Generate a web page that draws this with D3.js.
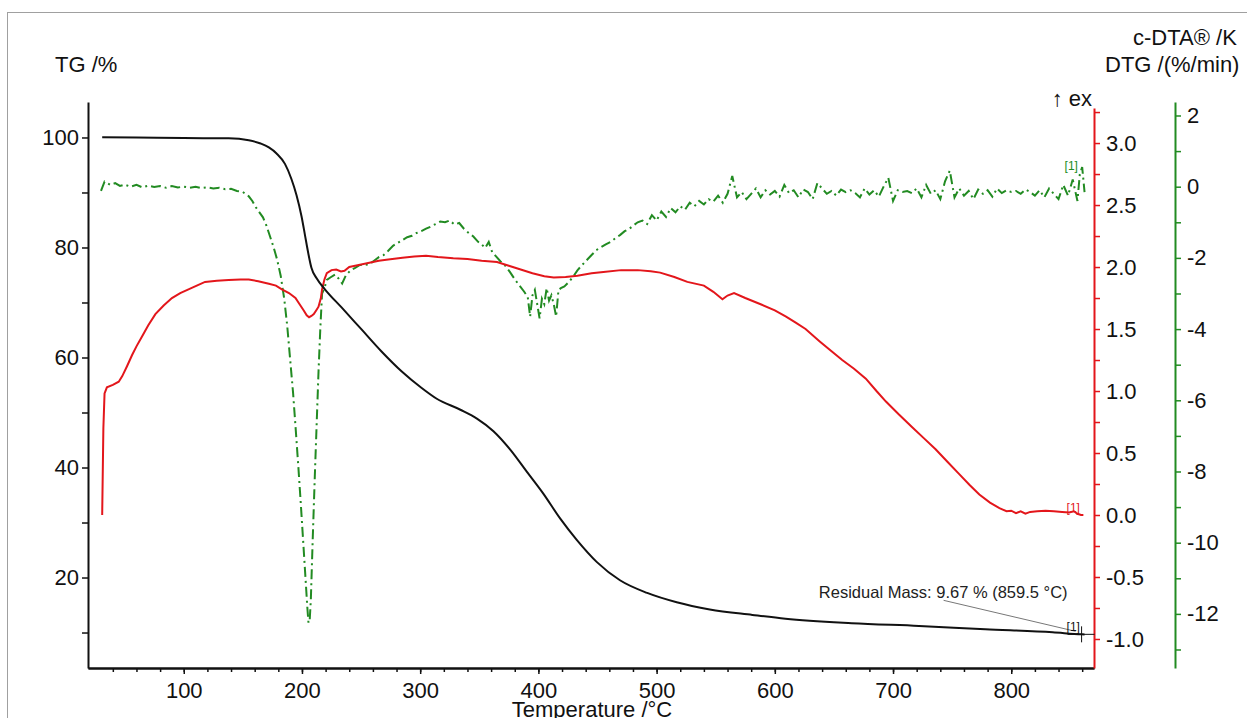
<!DOCTYPE html>
<html>
<head>
<meta charset="utf-8">
<script src="https://cdnjs.cloudflare.com/ajax/libs/d3/7.8.5/d3.min.js"></script>
<style>
  body { margin: 0; background: #fff; }
  svg { font-family: "Liberation Sans", Arial, "DejaVu Sans", sans-serif; }
</style>
</head>
<body>
<svg id="chart" width="1247" height="718"></svg>
<script>
// TG (mass %) vs temperature
var tgTemp = [31, 60, 100, 138, 155, 165, 172, 178.5, 185.6, 191, 195.4, 199.7, 202.5, 205.3, 208, 212.4, 219.4, 233.5, 250.4, 267.3, 284.2, 301, 314, 334, 348, 362, 376, 390, 404, 418.5, 432.6, 449.5, 469, 492, 517, 545, 581, 609, 665, 722, 778, 835, 859.5, 862];
var tgMass = [100.05, 100, 99.9, 99.85, 99.5, 98.9, 98.2, 97.1, 95.2, 92.5, 89.5, 85.6, 82.3, 79, 76.3, 74.4, 72.4, 69.1, 65.1, 61.1, 57.5, 54.5, 52.5, 50.5, 48.9, 46.6, 43.3, 39.3, 35.3, 30.7, 26.8, 22.8, 19.5, 17.2, 15.5, 14.2, 13.2, 12.5, 11.7, 11.2, 10.6, 10.05, 9.67, 9.65];

// c-DTA (K)
var dtaTemp = [31, 31.5, 32, 33, 35, 40, 45, 48, 52, 56.3, 60, 64.7, 70, 76, 83, 90, 97, 104, 111, 118, 128, 138, 148, 155, 163, 172, 178, 183, 189, 194.5, 198, 201.5, 204, 206, 208, 210, 212, 214, 216, 217, 219, 221, 225, 229, 233, 236, 240, 245, 255, 265, 273, 285, 295, 305, 315, 328, 340, 352, 365, 375, 385, 395, 405, 413, 423, 433, 445, 455, 470, 484, 495, 503, 515, 526, 540, 548, 555.7, 560, 565.5, 575, 588, 600, 609.5, 618, 626, 638, 648, 657, 667, 677, 686, 694, 705, 716, 726, 736, 746, 756, 765, 773, 782, 790, 796, 800, 804, 808, 812, 816, 822, 829, 836, 843, 849, 853, 856, 859, 861];
var dtaVal = [0.0, 0.35, 0.7, 0.98, 1.03, 1.05, 1.075, 1.12, 1.2, 1.29, 1.36, 1.44, 1.53, 1.62, 1.69, 1.75, 1.79, 1.82, 1.85, 1.88, 1.89, 1.895, 1.9, 1.9, 1.885, 1.865, 1.85, 1.82, 1.79, 1.75, 1.7, 1.65, 1.61, 1.595, 1.605, 1.62, 1.65, 1.68, 1.75, 1.82, 1.9, 1.95, 1.975, 1.98, 1.965, 1.97, 2.0, 2.01, 2.03, 2.05, 2.06, 2.075, 2.085, 2.09, 2.08, 2.07, 2.065, 2.05, 2.04, 2.01, 1.98, 1.95, 1.925, 1.915, 1.92, 1.93, 1.95, 1.96, 1.975, 1.975, 1.965, 1.955, 1.92, 1.88, 1.85, 1.8, 1.74, 1.77, 1.79, 1.75, 1.7, 1.65, 1.6, 1.55, 1.5, 1.4, 1.32, 1.25, 1.18, 1.1, 1.0, 0.915, 0.81, 0.71, 0.62, 0.53, 0.43, 0.33, 0.24, 0.165, 0.1, 0.055, 0.03, 0.035, 0.015, 0.03, 0.01, 0.025, 0.03, 0.035, 0.03, 0.025, 0.02, 0.03, 0.01, 0.0, 0.0];

// DTG (%/min)
var dtgTemp = [30, 33, 38, 42, 46, 50, 55, 60, 65, 70, 75, 80, 85, 90, 95, 100, 105, 110, 115, 120, 125, 130, 135, 140, 145, 150, 155, 158, 161, 164, 167, 170, 173, 176, 179, 182, 185, 187.5, 190, 192.5, 195, 197, 199, 201, 203, 204.5, 205.5, 206.5, 207.5, 209, 211, 212.5, 214, 215.5, 217, 219, 221, 224, 228, 231, 234, 237, 241, 245, 249, 253, 257, 261, 265, 269, 273, 277, 281, 285, 289, 293, 297, 301, 305, 309, 313, 317, 321, 325, 329, 333, 337, 341, 345, 349, 352, 355, 358, 361, 364, 368, 372, 376, 380, 384, 388, 391, 393, 395, 397, 399, 401, 403, 405, 407, 409, 411, 413, 415, 417, 419, 422, 425, 429, 433, 437, 441, 445, 449, 453, 457, 461, 465, 469, 473, 477, 480, 484, 488, 492, 496, 500, 504, 508, 512, 516, 520, 524, 528, 532, 536, 540, 544, 548, 552, 556, 560, 564, 568, 572, 576, 580, 584, 588, 592, 596, 600, 604, 608, 612, 616, 620, 624, 628, 632, 636, 640, 644, 648, 652, 656, 660, 664, 668, 672, 676, 680, 684, 688, 692, 696, 700, 704, 708, 712, 716, 720, 724, 728, 732, 736, 740, 744, 748, 752, 756, 760, 764, 768, 772, 776, 780, 784, 788, 792, 796, 800, 804, 808, 812, 816, 820, 824, 828, 832, 836, 840, 844, 848, 852, 856, 858, 860, 862];
var dtgVal = [-0.12, 0.14, 0.05, 0.1, 0.02, 0.06, 0.0, 0.05, -0.02, 0.03, -0.01, 0.02, -0.03, 0.02, -0.02, 0.0, -0.03, 0.0, -0.04, -0.02, -0.05, -0.03, -0.07, -0.06, -0.12, -0.15, -0.27, -0.4, -0.58, -0.72, -0.86, -1.1, -1.4, -1.7, -2.05, -2.5, -3.15, -3.9, -4.85, -5.8, -6.95, -7.9, -8.9, -9.95, -11.0, -11.8, -12.25, -12.2, -11.6, -10.0, -8.0, -6.6, -5.2, -4.0, -3.0, -2.85, -2.62, -2.55, -2.47, -2.58, -2.72, -2.5, -2.35, -2.28, -2.2, -2.2, -2.18, -2.08, -1.98, -1.92, -1.8, -1.66, -1.58, -1.5, -1.42, -1.38, -1.3, -1.25, -1.18, -1.12, -1.05, -0.98, -1.0, -0.95, -1.06, -1.02, -1.18, -1.3, -1.4, -1.55, -1.62, -1.72, -1.55, -1.85, -1.95, -2.1, -2.22, -2.4, -2.6, -2.78, -2.95, -3.1, -3.65, -3.05, -2.9, -3.3, -3.7, -3.15, -3.3, -2.85, -3.2, -3.05, -3.3, -3.65, -2.9, -2.85, -2.8, -2.7, -2.55, -2.35, -2.2, -2.06, -1.92, -1.78, -1.7, -1.62, -1.55, -1.45, -1.36, -1.25, -1.18, -1.1, -1.0, -0.95, -1.05, -0.8, -0.95, -0.7, -0.85, -0.6, -0.72, -0.55, -0.65, -0.45, -0.55, -0.4, -0.5, -0.35, -0.42, -0.25, -0.45, -0.2, 0.3, -0.3, -0.15, -0.35, -0.2, -0.05, -0.3, -0.1, -0.22, -0.12, -0.28, 0.05, -0.18, -0.1, -0.3, -0.08, -0.15, -0.35, 0.1, -0.05, -0.2, -0.12, -0.25, -0.08, -0.15, -0.1, -0.18, -0.3, -0.05, -0.22, -0.1, -0.28, 0.0, 0.25, -0.4, -0.1, -0.15, -0.12, -0.18, -0.05, -0.3, 0.05, -0.2, -0.1, -0.35, 0.15, 0.45, -0.3, -0.05, -0.25, -0.12, -0.35, -0.08, -0.2, -0.1, -0.28, -0.05, -0.18, -0.1, -0.15, -0.12, -0.2, -0.08, -0.15, -0.25, -0.1, -0.3, -0.05, -0.2, -0.35, 0.05, -0.25, 0.2, -0.4, 0.35, 0.55, -0.15];

// axis labels
var tempLabels = [100, 200, 300, 400, 500, 600, 700, 800];
var tgLabels = [20, 40, 60, 80, 100];
var dtaLabels = [-1.0, -0.5, 0.0, 0.5, 1.0, 1.5, 2.0, 2.5, 3.0];
var dtgLabels = [-12, -10, -8, -6, -4, -2, 0, 2];

var red = "#e3161b", green = "#228b22";
var plotL = 88, plotR = 1094, plotT = 102, plotB = 668;

var svg = d3.select("#chart");

var x = d3.scaleLinear().domain([19, 870]).range([plotL, plotR]);
var yTG = d3.scaleLinear().domain([3.55, 106.45]).range([plotB, plotT]);
var yDTA = d3.scaleLinear().domain([-1.234, 3.331]).range([plotB, plotT]);
var yDTG = d3.scaleLinear().domain([-13.52, 2.379]).range([plotB, plotT]);

// outer frame
svg.append("rect").attr("x", 7.5).attr("y", 12.5).attr("width", 1260).attr("height", 720)
    .attr("fill", "none").attr("stroke", "#a0a0a0");

function styleAxis(g, color) {
    g.select(".domain").attr("stroke", color).attr("stroke-width", 2);
    g.selectAll(".tick line").attr("stroke", color).attr("stroke-width", 1.5);
    g.selectAll("text").attr("fill", "#111").style("font-size", "22px").style("font-family", "Liberation Sans, Arial, sans-serif");
}

// bottom axis
svg.append("g").attr("transform", "translate(0," + plotB + ")")
    .call(d3.axisBottom(x).tickValues(d3.range(40, 861, 20)).tickFormat("").tickSize(4).tickSizeOuter(0))
    .call(styleAxis, "#111");
svg.append("g").attr("transform", "translate(0," + plotB + ")")
    .call(d3.axisBottom(x).tickValues(tempLabels).tickSize(6).tickSizeOuter(0).tickPadding(8))
    .call(styleAxis, "#111");

// left TG axis
svg.append("g").attr("transform", "translate(" + plotL + ",0)")
    .call(d3.axisLeft(yTG).tickValues(d3.range(10, 101, 10))
        .tickFormat(function (d) { return tgLabels.indexOf(d) >= 0 ? d : ""; })
        .tickSize(6).tickSizeOuter(0).tickPadding(3))
    .call(styleAxis, "#111");

// right c-DTA axis (starts a little below the top)
var yDTAaxis = yDTA.copy().domain([-1.234, yDTA.invert(108)]).range([plotB, 108]);
svg.append("g").attr("transform", "translate(" + plotR + ",0)")
    .call(d3.axisRight(yDTAaxis).tickValues(d3.range(-1, 3.26, 0.25))
        .tickFormat(function (d) {
            var hit = dtaLabels.filter(function (v) { return Math.abs(v - d) < 1e-6; });
            return hit.length ? d.toFixed(1) : "";
        })
        .tickSize(6).tickSizeOuter(0).tickPadding(6))
    .call(styleAxis, red);

// right DTG axis
svg.append("g").attr("transform", "translate(1175,0)")
    .call(d3.axisRight(yDTG).tickValues(d3.range(-13, 3, 1))
        .tickFormat(function (d) { return dtgLabels.indexOf(d) >= 0 ? String(d) : ""; })
        .tickSize(6).tickSizeOuter(0).tickPadding(6))
    .call(styleAxis, green);

// curves
var lineTG = d3.line().x(function (d, i) { return x(tgTemp[i]); }).y(function (d) { return yTG(d); }).curve(d3.curveMonotoneX);
var lineDTA = d3.line().x(function (d, i) { return x(dtaTemp[i]); }).y(function (d) { return yDTA(d); });
var lineDTG = d3.line().x(function (d, i) { return x(dtgTemp[i]); }).y(function (d) { return yDTG(d); });

svg.append("path").datum(dtgVal).attr("d", lineDTG)
    .attr("fill", "none").attr("stroke", green).attr("stroke-width", 2)
    .attr("stroke-dasharray", "10,4,2,4");
svg.append("path").datum(dtaVal).attr("d", lineDTA)
    .attr("fill", "none").attr("stroke", red).attr("stroke-width", 2);
svg.append("path").datum(tgMass).attr("d", lineTG)
    .attr("fill", "none").attr("stroke", "#111").attr("stroke-width", 2);

// titles
var titles = svg.append("g").style("font-size", "22px").attr("fill", "#111");
titles.append("text").attr("x", 55).attr("y", 72).text("TG /%");
titles.append("text").attr("x", 1133).attr("y", 45).text("c-DTA® /K");
titles.append("text").attr("x", 1105).attr("y", 72).text("DTG /(%/min)");
titles.append("text").attr("x", 1092).attr("y", 106).attr("text-anchor", "end").text("↑ ex");
titles.append("text").attr("x", 592).attr("y", 717).attr("text-anchor", "middle").text("Temperature /°C");

// residual mass annotation
var rx = x(859.5), ry = yTG(9.67);
svg.append("line").attr("x1", rx - 6).attr("y1", ry - 3).attr("x2", rx - 138).attr("y2", ry - 34)
    .attr("stroke", "#777").attr("stroke-width", 1);
svg.append("line").attr("x1", rx - 14).attr("x2", rx + 13).attr("y1", ry).attr("y2", ry)
    .attr("stroke", "#111").attr("stroke-width", 1);
svg.append("line").attr("x1", rx).attr("x2", rx).attr("y1", ry - 8).attr("y2", ry + 8)
    .attr("stroke", "#111").attr("stroke-width", 1);
svg.append("text").attr("x", rx - 14).attr("y", ry - 36).attr("text-anchor", "end")
    .style("font-size", "16.5px").attr("fill", "#222").text("Residual Mass: 9.67 % (859.5 °C)");

// segment markers
svg.append("text").attr("x", rx - 15).attr("y", ry - 3).style("font-size", "12px").attr("fill", "#111").text("[1]");
svg.append("text").attr("x", rx - 15).attr("y", yDTA(dtaVal[dtaVal.length - 1]) - 3).style("font-size", "12px").attr("fill", red).text("[1]");
svg.append("text").attr("x", rx - 17).attr("y", yDTG(0.4) - 2).style("font-size", "12px").attr("fill", green).text("[1]");
</script>
</body>
</html>
